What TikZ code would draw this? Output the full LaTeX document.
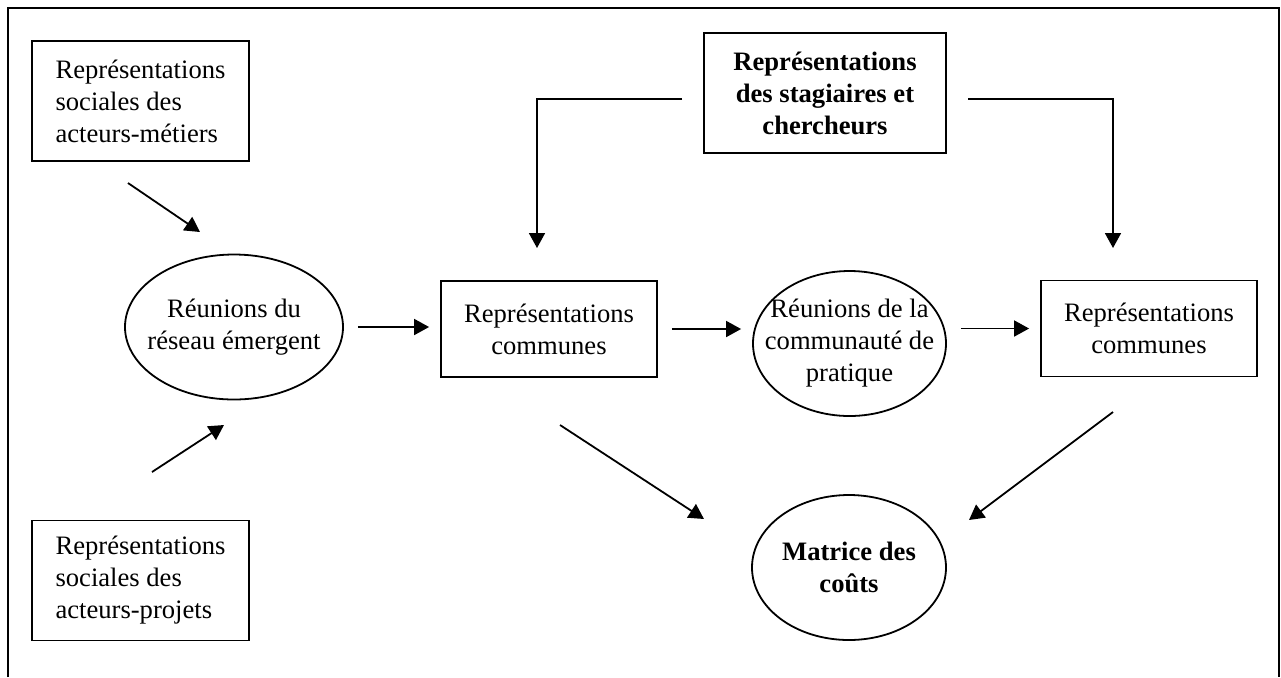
\documentclass[tikz,border=0pt]{standalone}
\usepackage{fontspec}
\setmainfont{Liberation Serif}
\usepackage{tikz}
\usetikzlibrary{arrows.meta,calc,shapes.geometric}
\newcommand\dfont{\fontsize{13.3}{16}\selectfont}
\tikzset{
  obj/.style ={draw,line width=0.9pt,inner sep=0pt,align=center,font=\dfont},
  ell/.style ={draw,ellipse,line width=0.9pt,inner sep=-10pt,align=center,font=\dfont,minimum height=72.5pt},
  ar/.style  ={-{Triangle[length=7.5pt,width=8pt]},line width=0.9pt},
  gap/.style ={shorten <=7pt,shorten >=5.5pt},
}
\begin{document}
\begin{tikzpicture}[x=0.5pt,y=-0.5pt]
  \useasboundingbox (0,0) rectangle (1281,677);
  \draw[line width=0.9pt] (8,677) -- (8,8) -- (1279,8) -- (1279,677);

  \node[obj,align=left,minimum width=108.5pt,minimum height=60pt] (metiers) at (140.5,101)
    {Représentations\\sociales des\\acteurs-métiers};
  \node[obj,align=left,minimum width=108.5pt,minimum height=60pt] (projets) at (140.5,580.5)
    {Représentations\\sociales des\\acteurs-projets};
  \node[ell,minimum width=109pt] (reseau) at (234,327) {Réunions du\\réseau émergent};
  \node[obj,minimum width=108pt,minimum height=48pt] (comm1) at (549,329) {Représentations\\communes};
  \node[ell,minimum width=96.5pt] (cop) at (849.5,343.5) {Réunions de la\\communauté de\\pratique};
  \node[obj,minimum width=108pt,minimum height=48pt] (comm2) at (1149,328.5) {Représentations\\communes};
  \node[obj,font=\dfont\bfseries,minimum width=121pt,minimum height=60pt] (stag) at (825,93)
    {Représentations\\des stagiaires et\\chercheurs};
  \node[ell,font=\dfont\bfseries,minimum width=97pt] (matrice) at (849,567.5) {Matrice des\\coûts};

  \coordinate (m1) at (128,183);  \coordinate (m2) at (200,232);
  \coordinate (p1) at (152,472);  \coordinate (p2) at (224,425);
  \coordinate (s1) at (682,99);   \coordinate (s2) at (537,248);
  \coordinate (s3) at (968,99);   \coordinate (s4) at (1113,248);
  \coordinate (c1) at (560,425);  \coordinate (c2) at (704,519);
  \coordinate (c3) at (1113,412); \coordinate (c4) at (969,520);

  \draw[ar] (m1) -- (m2);
  \draw[ar] (p1) -- (p2);
  \draw[ar,gap] (reseau.east) -- (reseau.east -| comm1.west);
  \draw[ar,gap] (comm1.east) -- (comm1.east -| cop.west);
  \draw[ar,gap] (cop.east |- comm2.west) -- (comm2.west);
  \draw[ar] (s1) -| (s2);
  \draw[ar] (s3) -| (s4);
  \draw[ar] (c1) -- (c2);
  \draw[ar] (c3) -- (c4);
\end{tikzpicture}
\end{document}
